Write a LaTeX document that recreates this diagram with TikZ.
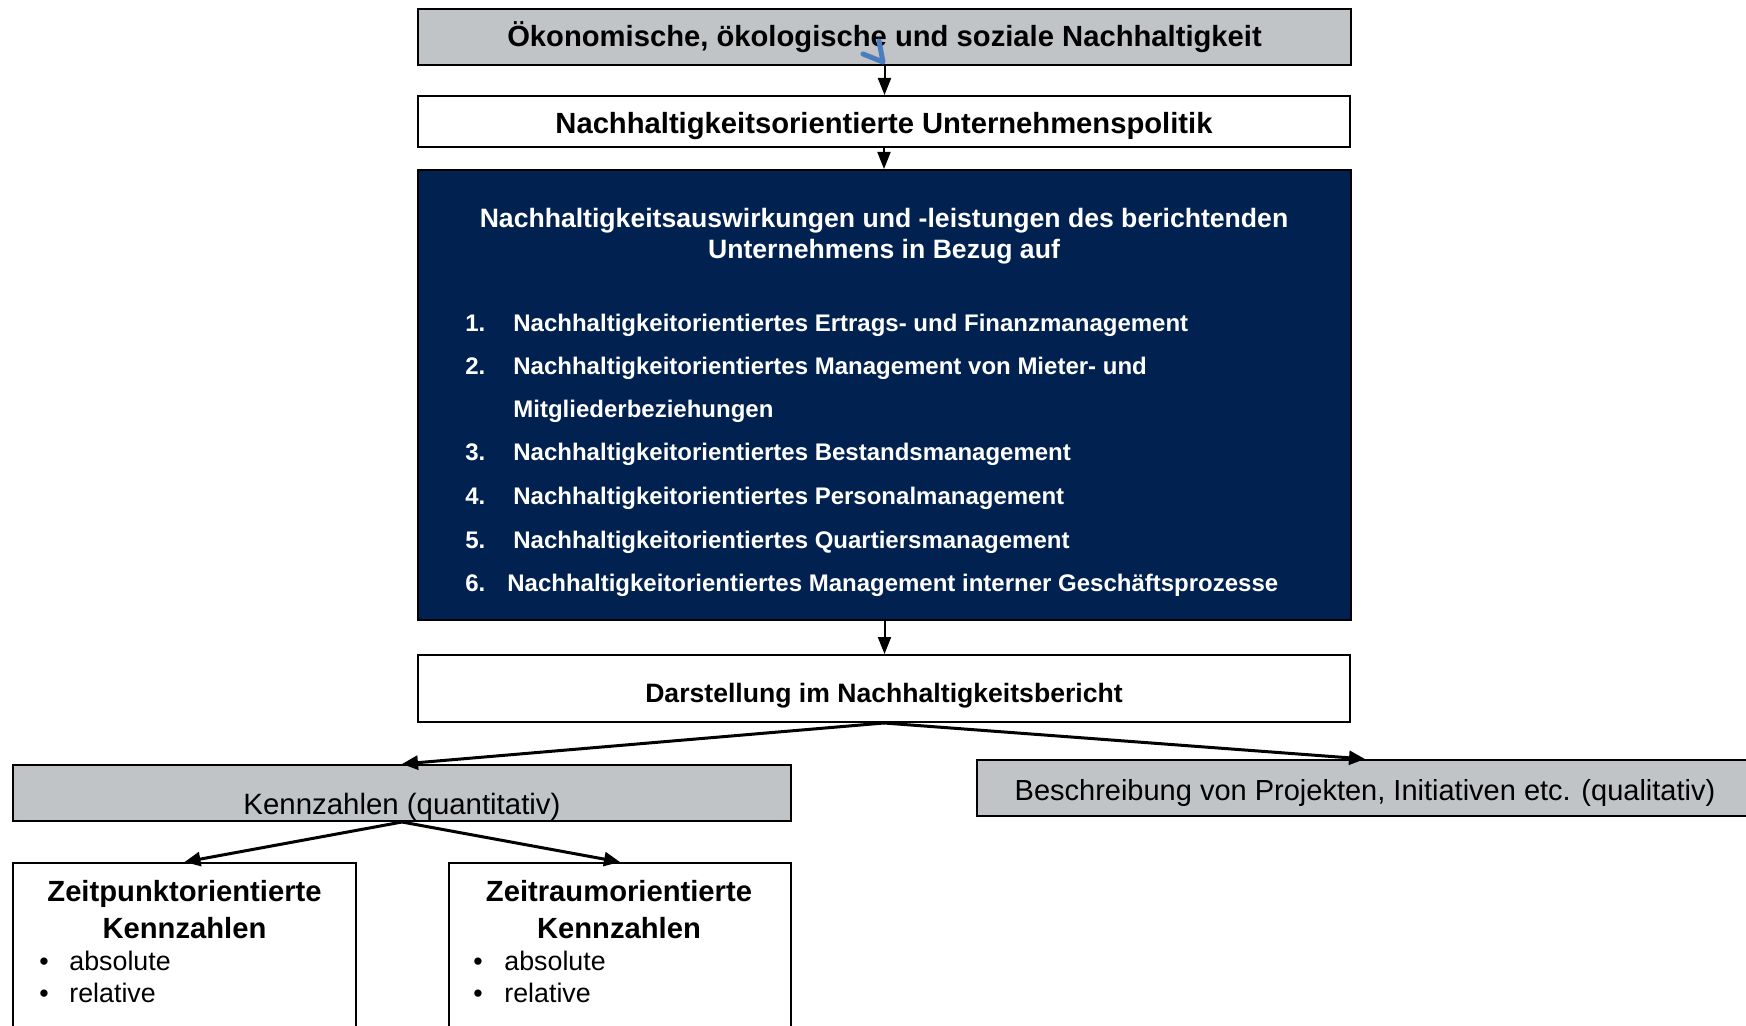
\documentclass[tikz,border=0pt]{standalone}
\usepackage{xcolor}
\usepackage{fontspec}
\setmainfont{Liberation Sans}
\usepackage{tikz}
\usetikzlibrary{arrows.meta}

\definecolor{boxgray}{RGB}{192,196,199}
\definecolor{navy}{RGB}{1,34,80}
\definecolor{pen}{RGB}{74,124,192}

\tikzset{
  box/.style={draw=black, line width=1pt, inner sep=0pt},
  graybox/.style={box, fill=boxgray},
  whitebox/.style={box, fill=white},
  navybox/.style={box, fill=navy},
  link/.style={line width=1pt, -{Triangle[length=8.5pt,width=6.5pt]}},
  slant/.style={line width=1.5pt, -{Triangle[length=8pt,width=7pt]}},
  item/.style={text=white, inner sep=0pt, font=\bfseries\fontsize{12}{14}\selectfont},
  bullettext/.style={inner sep=0pt, font=\fontsize{13.4}{16}\selectfont},
}

\begin{document}
\begin{tikzpicture}[x=0.5pt, y=-0.5pt]
    \useasboundingbox (0,0) rectangle (1746,1026);
    \clip (0,0) rectangle (1746,1026);

    \node[graybox, minimum width=466.5pt, minimum height=28pt, font=\bfseries\fontsize{14.6}{17}\selectfont] (dims) at (884.5,37)
      {Ökonomische, ökologische und soziale Nachhaltigkeit};
    \node[whitebox, minimum width=466pt, minimum height=25.5pt] (policy) at (884,121.5) {};
    \node[navybox, minimum width=466.5pt, minimum height=225pt] (impact) at (884.5,395) {};
    \node[whitebox, minimum width=466pt, minimum height=33.5pt] (report) at (884,688.5) {};
    \node[graybox, minimum width=389pt, minimum height=28pt] (kenn) at (402,793) {};
    \node[graybox, minimum width=388pt, minimum height=28pt] (besch) at (1365,788) {};
    \node[whitebox, minimum width=171.5pt, minimum height=100pt] (point) at (184.5,963) {};
    \node[whitebox, minimum width=171pt, minimum height=100pt] (span) at (620,963) {};

    \node[font=\bfseries\fontsize{14.6}{17}\selectfont] (policytext) at (884,126)
      {Nachhaltigkeitsorientierte Unternehmenspolitik};
    \node[font=\bfseries\fontsize{13.3}{16}\selectfont] (reporttext) at (884,695.5)
      {Darstellung im Nachhaltigkeitsbericht};
    \node[font=\fontsize{14.7}{17}\selectfont] (kenntext) at (402,806.5) {Kennzahlen (quantitativ)};
    \node[font=\fontsize{14.5}{17}\selectfont] (beschtext) at (1365,792.5)
      {Beschreibung von Projekten, Initiativen etc. (qualitativ)};

    \node[text=white, align=center, font=\bfseries\fontsize{13.3}{15.5}\selectfont] (head) at (884,236)
      {Nachhaltigkeitsauswirkungen und -leistungen des berichtenden\\Unternehmens in Bezug auf};
    \foreach \n/\y/\tx/\txt in {1./332/513/{Nachhaltigkeitorientiertes Ertrags- und Finanzmanagement},
        2./375/513/{Nachhaltigkeitorientiertes Management von Mieter- und},
        /418/513/{Mitgliederbeziehungen},
        3./461/513/{Nachhaltigkeitorientiertes Bestandsmanagement},
        4./505/513/{Nachhaltigkeitorientiertes Personalmanagement},
        5./548/513/{Nachhaltigkeitorientiertes Quartiersmanagement},
        6./591/507/{Nachhaltigkeitorientiertes Management interner Geschäftsprozesse}}
      {
        \node[item, anchor=base west] (num\y) at (465,\y) {\n};
        \node[item, anchor=base west] (line\y) at (\tx,\y) {\txt};
      }

    \node[align=center, font=\bfseries\fontsize{14.6}{18.5}\selectfont] (pointhead) at (184.5,909.5)
      {Zeitpunktorientierte\\Kennzahlen};
    \node[align=center, font=\bfseries\fontsize{14.6}{18.5}\selectfont] (spanhead) at (619,909.5)
      {Zeitraumorientierte\\Kennzahlen};
    \foreach \bx/\tx/\nm in {39/69/pt, 473/504/sp}
      {
        \node[bullettext, anchor=base west] (\nm dota) at (\bx,970) {\textbullet};
        \node[bullettext, anchor=base west] (\nm abs) at (\tx,970) {absolute};
        \node[bullettext, anchor=base west] (\nm dotb) at (\bx,1002) {\textbullet};
        \node[bullettext, anchor=base west] (\nm rel) at (\tx,1002) {relative};
      }

    \draw[link] (dims.south) -- (dims.south |- policy.north);
    \draw[link] (policy.south) -- (policy.south |- impact.north);
    \draw[link] (impact.south) -- (impact.south |- report.north);
    \draw[slant] (report.south) -- (kenn.north);
    \draw[slant] (report.south) -- (besch.north);
    \draw[slant] (kenn.south) -- (point.north);
    \draw[slant] (kenn.south) -- (span.north);

    \draw[pen, line width=2.5pt, line cap=round, line join=round] (863,54) -- (883,62) -- (879,41);
\end{tikzpicture}
\end{document}
